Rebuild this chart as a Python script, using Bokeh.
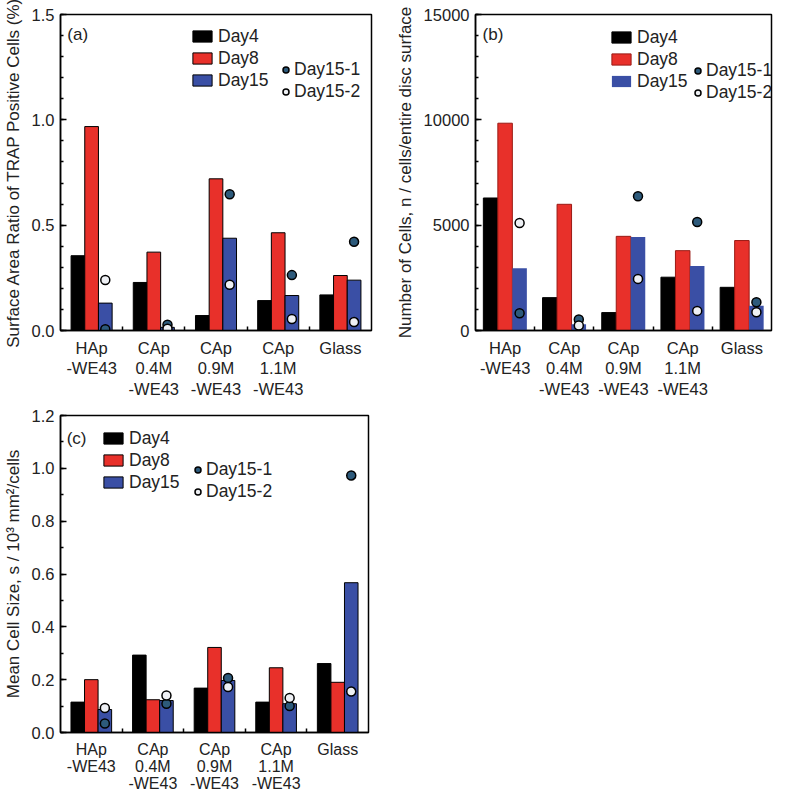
import numpy as np
from bokeh.plotting import figure
from bokeh.models import (ColumnDataSource, Range1d, FixedTicker, SingleIntervalTicker,
                          NumeralTickFormatter, Legend, LegendItem, Label, GlobalInlineStyleSheet)
from bokeh.transform import dodge
from bokeh.layouts import column, row
from bokeh.embed import file_html
from bokeh.resources import INLINE

categories = ["HAp\n-WE43", "CAp\n0.4M\n-WE43", "CAp\n0.9M\n-WE43", "CAp\n1.1M\n-WE43", "Glass"]

# (a) Surface area ratio of TRAP positive cells (%)
area_day4 = [0.355, 0.228, 0.071, 0.142, 0.169]
area_day8 = [0.968, 0.372, 0.720, 0.464, 0.261]
area_day15 = [0.130, 0.015, 0.438, 0.166, 0.239]
area_day15_1 = [0.006, 0.027, 0.647, 0.263, 0.421]
area_day15_2 = [0.240, 0.008, 0.217, 0.055, 0.040]

# (b) Number of cells
num_day4 = [6290, 1560, 850, 2530, 2050]
num_day8 = [9840, 5990, 4470, 3790, 4270]
num_day15 = [2950, 300, 4440, 3060, 1180]
num_day15_1 = [820, 520, 6370, 5150, 1340]
num_day15_2 = [5100, 240, 2450, 930, 870]

# (c) Mean cell size
size_day4 = [0.115, 0.293, 0.168, 0.115, 0.261]
size_day8 = [0.200, 0.124, 0.322, 0.245, 0.190]
size_day15 = [0.087, 0.121, 0.197, 0.109, 0.567]
size_day15_1 = [0.034, 0.109, 0.206, 0.100, 0.973]
size_day15_2 = [0.093, 0.140, 0.172, 0.131, 0.155]

FONT = "Liberation Sans"
RED = "#e8302a"
BLUE = "#3a4fa5"
DARKDOT = "#2d5a7b"
LIGHTDOT = "#eef0f4"
TXT = "#222222"


def make_panel(tag, ylabel, ymax, interval, nminor, fmt, d4, d8, d15, d1, d2,
               width, height, bl, br, bt, bb, bw, tag_pos, leg1_loc, leg2_loc,
               red_line="black", blue_line="black", xfont="16.5px", xline=1.15):
    x = [i + 0.5 for i in range(len(categories))]
    src = ColumnDataSource(dict(x=x, d4=d4, d8=d8, d15=d15, d1=d1, d2=d2))
    p = figure(width=width, height=height, x_range=Range1d(0, len(categories)),
               y_range=Range1d(0, ymax * 1.000001), output_backend="svg", toolbar_location=None,
               min_border_left=bl, min_border_right=br, min_border_top=bt,
               min_border_bottom=bb)
    p.xgrid.visible = False
    p.ygrid.visible = False
    p.outline_line_color = "black"
    p.outline_line_width = 1.5
    p.background_fill_color = "white"

    r4 = p.vbar(x=dodge('x', -bw, range=p.x_range), top='d4', width=bw, source=src,
                fill_color="black", line_color="black", line_width=1)
    r8 = p.vbar(x='x', top='d8', width=bw, source=src,
                fill_color=RED, line_color=red_line, line_width=1)
    r15 = p.vbar(x=dodge('x', bw, range=p.x_range), top='d15', width=bw, source=src,
                 fill_color=BLUE, line_color=blue_line, line_width=1)
    s1 = p.scatter(x=dodge('x', bw, range=p.x_range), y='d1', source=src, size=9,
                   fill_color=DARKDOT, line_color="black", line_width=1.5)
    s2 = p.scatter(x=dodge('x', bw, range=p.x_range), y='d2', source=src, size=9,
                   fill_color=LIGHTDOT, line_color="black", line_width=1.5)

    # axes
    for ax in (p.xaxis[0], p.yaxis[0]):
        ax.axis_line_width = 1.5
        ax.axis_line_color = "black"
        ax.major_label_text_font = FONT
        ax.major_label_text_font_size = "16.5px"
        ax.major_label_text_color = TXT
        ax.axis_label_text_font = FONT
        ax.axis_label_text_font_size = "17px"
        ax.axis_label_text_font_style = "normal"
        ax.axis_label_text_color = TXT

    xa = p.xaxis[0]
    xa.ticker = FixedTicker(ticks=x, minor_ticks=[1, 2, 3, 4])
    xa.major_tick_line_color = None
    xa.minor_tick_in = 4
    xa.minor_tick_out = 0
    xa.minor_tick_line_width = 1.5
    xa.major_label_standoff = 2
    xa.major_label_overrides = {xi: c for xi, c in zip(x, categories)}
    xa.major_label_text_font_size = xfont
    xa.major_label_text_line_height = xline

    ya = p.yaxis[0]
    ya.ticker = SingleIntervalTicker(interval=interval, num_minor_ticks=nminor)
    ya.formatter = NumeralTickFormatter(format=fmt)
    ya.major_tick_in = 6
    ya.major_tick_out = 0
    ya.minor_tick_in = 3
    ya.minor_tick_out = 0
    ya.major_tick_line_width = 1.5
    ya.minor_tick_line_width = 1.5
    ya.major_label_standoff = 6
    ya.axis_label = ylabel
    ya.axis_label_standoff = 6

    p.add_layout(Label(x=tag_pos[0], y=tag_pos[1], text=tag, text_font=FONT,
                       text_font_size="17px", text_baseline="middle", text_color=TXT))

    leg1 = Legend(items=[LegendItem(label="Day4", renderers=[r4]),
                         LegendItem(label="Day8", renderers=[r8]),
                         LegendItem(label="Day15", renderers=[r15])],
                  location=leg1_loc, glyph_width=24, glyph_height=14, label_height=22,
                  spacing=0, label_standoff=4, padding=0, margin=0,
                  border_line_color=None, background_fill_alpha=0,
                  label_text_font=FONT, label_text_font_size="17.5px",
                  label_text_color=TXT)
    leg2 = Legend(items=[LegendItem(label="Day15-1", renderers=[s1]),
                         LegendItem(label="Day15-2", renderers=[s2])],
                  location=leg2_loc, glyph_width=15, glyph_height=15, label_height=22,
                  spacing=0, label_standoff=1, padding=0, margin=0,
                  border_line_color=None, background_fill_alpha=0,
                  label_text_font=FONT, label_text_font_size="17.5px",
                  label_text_color=TXT)
    p.add_layout(leg1)
    p.add_layout(leg2)
    return p


pa = make_panel("(a)", "Surface Area Ratio of TRAP Positive Cells (%)", 1.5, 0.5, 5, "0.0",
                area_day4, area_day8, area_day15, area_day15_1, area_day15_2,
                392, 402, 48, 21, 14, 72, 0.22, (0.11, 1.405), (130, 239), (218, 228))
pb = make_panel("(b)", "Number of Cells, n / cells/entire disc surface", 15000, 5000, 5, "0",
                num_day4, num_day8, num_day15, num_day15_1, num_day15_2,
                392, 402, 82, 13, 14, 72, 0.245, (0.12, 14050), (134, 238), (215, 227),
                red_line="#9a1a14", blue_line=None)
pc = make_panel("(c)", "Mean Cell Size, s / 10³ mm²/cells", 1.2, 0.2, 2, "0.0",
                size_day4, size_day8, size_day15, size_day15_1, size_day15_2,
                392, 402, 49, 24, 13, 72, 0.22, (0.1, 1.113), (41, 239), (130, 230),
                xfont="16px", xline=1.0)

layout = column(row(pa, pb), pc,
                stylesheets=[GlobalInlineStyleSheet(css="html, body { overflow: hidden; }")])

open("out.html", "w").write(file_html(layout, INLINE))
